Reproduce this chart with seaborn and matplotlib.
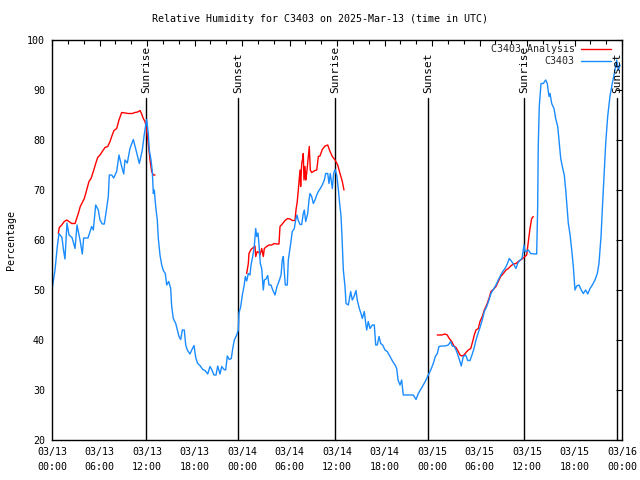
import numpy as np
import pandas as pd
import matplotlib
matplotlib.use("Agg")
import matplotlib.pyplot as plt
import matplotlib.dates as mdates
import seaborn as sns

# ---------------- data ----------------
title = "Relative Humidity for C3403 on 2025-Mar-13 (time in UTC)"
start_time = "2025-03-13 00:00"

# observed station series (hours since start, % RH)
obs_hours = [0.0, 0.38, 0.67, 0.88, 1.26, 1.45, 1.64, 1.89, 2.15, 2.53, 2.91, 3.16, 3.54, 3.83, 4.0, 4.55,
             5.01, 5.22, 5.52, 5.85, 6.06, 6.35, 6.61, 6.91, 7.11, 7.24, 7.54, 7.79, 8.17, 8.46, 8.8, 9.06,
             9.22, 9.51, 9.85, 10.27, 10.61, 11.03, 11.41, 11.62, 11.84, 11.96, 12.16, 12.29, 12.51, 12.67,
             12.8, 12.92, 13.1, 13.3, 13.43, 13.64, 13.86, 14.06, 14.31, 14.49, 14.74, 14.99, 15.12, 15.32,
             15.63, 15.83, 16.04, 16.26, 16.46, 16.71, 16.89, 17.09, 17.43, 17.65, 17.94, 18.15, 18.4, 18.69,
             19.04, 19.33, 19.67, 19.96, 20.17, 20.46, 20.72, 20.93, 21.22, 21.44, 21.73, 21.94, 22.14, 22.4,
             22.65, 22.83, 23.03, 23.33, 23.53, 23.62, 23.84, 24.04, 24.25, 24.42, 24.59, 24.8, 25.01, 25.14,
             25.35, 25.55, 25.73, 25.86, 26.02, 26.15, 26.31, 26.49, 26.69, 26.82, 27.03, 27.25, 27.41, 27.66,
             27.88, 28.17, 28.42, 28.67, 28.93, 29.09, 29.22, 29.34, 29.47, 29.72, 29.85, 29.97, 30.15, 30.35,
             30.61, 30.78, 30.95, 31.11, 31.33, 31.54, 31.74, 31.87, 32.05, 32.3, 32.46, 32.59, 32.8, 33.01,
             33.22, 33.44, 33.64, 33.89, 34.14, 34.4, 34.57, 34.83, 34.99, 35.15, 35.41, 35.58, 35.75, 35.96,
             36.16, 36.29, 36.51, 36.63, 36.8, 37.01, 37.14, 37.43, 37.73, 37.93, 38.15, 38.4, 38.56, 38.82,
             39.03, 39.2, 39.45, 39.63, 39.75, 39.95, 40.17, 40.46, 40.71, 40.89, 41.09, 41.31, 41.52, 41.77,
             42.06, 42.35, 42.69, 43.04, 43.33, 43.54, 43.71, 43.96, 44.17, 44.37, 44.8, 45.22, 45.64, 45.98,
             46.27, 46.57, 46.9, 47.24, 47.53, 47.84, 48.16, 48.42, 48.67, 48.88, 49.23, 49.64, 50.06, 50.36,
             50.56, 50.82, 51.12, 51.41, 51.7, 51.95, 52.26, 52.51, 52.8, 53.05, 53.3, 53.56, 53.85, 54.06,
             54.35, 54.61, 54.91, 55.2, 55.45, 55.74, 56.08, 56.37, 56.68, 56.93, 57.22, 57.51, 57.76, 58.07,
             58.36, 58.61, 58.82, 59.12, 59.37, 59.62, 59.75, 59.87, 60.16, 60.47, 61.01, 61.22, 61.35, 61.42,
             61.55, 61.77, 62.06, 62.36, 62.56, 62.78, 62.91, 63.12, 63.41, 63.62, 63.88, 64.04, 64.26, 64.46,
             64.71, 64.89, 65.05, 65.22, 65.43, 65.65, 65.85, 66.06, 66.28, 66.57, 66.82, 67.11, 67.41, 67.67,
             67.96, 68.25, 68.59, 68.88, 69.09, 69.35, 69.51, 69.73, 69.94, 70.19, 70.48, 70.77, 71.03, 71.33,
             71.54, 71.75]
obs_rh = [50.0, 54.0, 58.7, 61.3, 60.5, 58.0, 56.2, 63.4, 61.0, 60.5, 58.3, 63.0, 60.0, 57.2, 60.4, 60.4,
          62.7, 62.0, 67.0, 66.0, 64.0, 63.2, 63.2, 66.4, 68.7, 73.0, 73.0, 72.4, 73.7, 77.0, 74.7, 73.2,
          76.0, 75.4, 78.3, 80.1, 78.0, 75.3, 78.0, 80.7, 83.0, 84.1, 81.3, 78.0, 76.0, 73.7,
          69.3, 70.0, 66.7, 64.0, 60.3, 57.0, 55.0, 53.9, 53.3, 51.0, 51.7, 50.3, 46.7, 44.3,
          43.3, 42.0, 40.7, 40.1, 42.0, 42.0, 39.0, 38.0, 37.2, 38.0, 38.9, 36.5, 35.3, 34.9,
          34.1, 33.9, 33.2, 34.7, 34.1, 33.0, 33.0, 34.8, 33.2, 34.7, 34.1, 34.0, 36.8, 36.1,
          36.3, 38.3, 40.0, 41.0, 42.0, 45.4, 46.7, 49.0, 50.7, 52.7, 51.8, 53.3, 53.0, 55.0,
          56.7, 58.7, 62.3, 60.7, 61.4, 59.0, 55.3, 54.3, 50.0, 52.0, 52.2, 52.9, 51.0, 51.0,
          50.0, 49.0, 50.7, 51.7, 53.0, 56.0, 56.7, 53.7, 51.0, 51.0, 56.0, 57.3, 59.3, 61.7,
          62.3, 64.0, 65.0, 63.9, 63.1, 63.1, 65.3, 66.0, 63.7, 65.3, 68.0, 69.3, 68.7, 67.3,
          68.0, 69.0, 69.7, 70.3, 71.0, 72.0, 73.3, 73.3, 71.3, 73.3, 70.3, 73.3, 74.1, 73.0,
          70.3, 68.0, 64.7, 60.7, 54.0, 50.7, 47.3, 47.0, 49.7, 48.0, 48.7, 49.9, 48.0, 46.3,
          45.3, 44.3, 45.7, 43.3, 42.0, 43.7, 42.3, 43.0, 43.0, 39.0, 39.0, 40.7, 39.3, 39.0,
          38.0, 37.7, 36.7, 35.7, 35.0, 34.3, 32.0, 31.0, 32.0, 29.0, 29.0, 29.0, 29.0, 28.1,
          29.3, 30.1, 31.0, 32.0, 33.0, 34.0, 35.3, 36.7, 37.3, 38.7, 38.8, 38.8, 39.0, 39.7,
          38.8, 38.7, 37.7, 36.3, 34.8, 36.7, 37.0, 35.9, 35.9, 37.0, 38.3, 40.0, 41.5, 42.5,
          44.0, 45.7, 46.7, 48.0, 49.3, 50.1, 51.0, 52.0, 53.0, 53.7, 54.3, 55.2, 56.3, 55.7,
          55.0, 54.3, 55.3, 56.0, 56.3, 59.0, 57.7, 57.7, 58.0, 57.3, 57.2, 57.2, 66.7, 78.7,
          86.7, 91.3, 91.3, 92.0, 91.3, 88.7, 89.3, 87.3, 86.3, 84.3, 82.7, 80.0, 76.3, 74.7,
          73.0, 70.0, 66.7, 63.3, 61.2, 58.0, 54.7, 50.0, 50.8, 51.0, 50.1, 49.3, 50.0, 49.2,
          50.3, 51.0, 52.0, 53.3, 55.3, 60.7, 66.0, 72.7, 79.3, 84.7, 88.7, 91.3, 93.3, 96.0,
          94.0, 95.0]

# analysis series, three separate runs (hours since start, % RH)
ana_hours_1 = [0.8, 0.92, 1.23, 1.55, 1.86, 2.15, 2.49, 2.91, 3.12, 3.32, 3.57, 3.83, 4.08, 4.38, 4.67,
               4.93, 5.22, 5.52, 5.77, 6.06, 6.35, 6.69, 7.04, 7.33, 7.54, 7.83, 8.17, 8.46, 8.8, 9.22,
               9.64, 10.14, 10.48, 10.83, 11.12, 11.33, 11.53, 11.75, 11.96, 12.16, 12.38, 12.59, 12.8, 13.01]
ana_rh_1 = [61.3, 62.5, 63.0, 63.7, 64.0, 63.7, 63.3, 63.3, 64.3, 65.3, 66.7, 67.5, 68.3, 70.0, 71.7,
            72.3, 73.7, 75.3, 76.5, 77.0, 77.7, 78.5, 78.7, 79.7, 80.7, 81.9, 82.3, 84.0, 85.5, 85.4,
            85.3, 85.3, 85.5, 85.6, 85.9, 85.2, 84.3, 83.7, 82.0, 79.3, 76.0, 73.7, 73.0, 73.0]
ana_hours_2 = [24.59, 24.8, 24.88, 25.14, 25.43, 25.64, 25.73, 25.93, 26.15, 26.27, 26.49, 26.69, 26.82,
               27.12, 27.41, 27.75, 28.08, 28.38, 28.67, 28.8, 29.09, 29.43, 29.77, 30.06, 30.35, 30.69,
               30.82, 30.98, 31.11, 31.33, 31.41, 31.54, 31.67, 31.74, 31.83, 31.96, 32.05, 32.17, 32.38,
               32.5, 32.63, 32.8, 33.01, 33.22, 33.44, 33.64, 33.85, 34.14, 34.48, 34.83, 35.12, 35.41,
               35.75, 36.09, 36.38, 36.67, 36.88]
ana_rh_2 = [53.3, 55.3, 57.3, 58.1, 58.5, 58.8, 56.7, 57.7, 57.5, 57.0, 58.3, 56.7, 58.3,
            58.7, 59.0, 59.0, 59.3, 59.2, 59.2, 62.7, 63.2, 63.9, 64.3, 64.2, 63.9, 63.9,
            66.0, 67.7, 70.0, 74.0, 70.7, 75.3, 76.3, 77.3, 72.0, 74.7, 72.0, 73.3, 76.7,
            78.7, 74.0, 73.5, 73.7, 73.9, 74.0, 76.7, 76.8, 78.1, 78.8, 79.0, 77.7, 76.7,
            76.0, 75.0, 73.3, 71.7, 70.0]
ana_hours_3 = [48.67, 49.23, 49.64, 49.93, 50.18, 50.49, 50.78, 51.03, 51.32, 51.54, 51.75, 52.04, 52.29,
               52.59, 52.89, 53.14, 53.34, 53.56, 53.85, 54.06, 54.35, 54.61, 54.91, 55.2, 55.45, 55.74,
               56.08, 56.37, 56.68, 57.01, 57.35, 57.64, 57.94, 58.28, 58.61, 58.9, 59.2, 59.45, 59.75,
               59.96, 60.09, 60.25, 60.38, 60.59, 60.8]
ana_rh_3 = [41.0, 41.0, 41.2, 41.0, 40.3, 39.7, 38.8, 38.5, 37.7, 37.0, 36.8, 37.0, 37.5,
            38.0, 38.3, 39.7, 41.0, 42.0, 42.3, 43.7, 44.7, 46.0, 47.0, 48.3, 49.7, 50.1,
            50.7, 51.7, 52.7, 53.3, 54.0, 54.3, 54.8, 55.2, 55.3, 55.7, 56.0, 56.3, 56.7,
            57.0, 58.7, 60.7, 62.3, 64.3, 64.7]

# sun events (hours since start)
sun_hours = [11.87, 23.53, 35.8, 47.55, 59.65, 71.42]
sun_labels = ["Sunrise", "Sunset", "Sunrise", "Sunset", "Sunrise", "Sunset"]
sun_line_top = 88.4   # % level where the marker lines stop
sun_text_base = 89.4  # % level where the labels start

obs_label = "C3403"
ana_label = "C3403 Analysis"
y_label = "Percentage"
y_ticks = [20, 30, 40, 50, 60, 70, 80, 90, 100]

# ---------------- build frames ----------------
t0 = pd.Timestamp(start_time)
obs = pd.DataFrame({"time": t0 + pd.to_timedelta(obs_hours, unit="h"), "rh": obs_rh})
ana = pd.concat([
    pd.DataFrame({"time": t0 + pd.to_timedelta(h, unit="h"), "rh": v, "run": i})
    for i, (h, v) in enumerate([(ana_hours_1, ana_rh_1), (ana_hours_2, ana_rh_2), (ana_hours_3, ana_rh_3)])
], ignore_index=True)

# ---------------- style ----------------
sns.set_theme(style="white")
mono = ["DejaVu Sans Mono"]
plt.rcParams["font.family"] = mono
plt.rcParams["font.size"] = 7.2

fig = plt.figure(figsize=(6.4, 4.8), dpi=100)
ax = fig.add_axes([52 / 640, 40 / 480, 570 / 640, 400 / 480])

red = "#ff0000"
blue = "#1a8cff"

sns.lineplot(data=ana, x="time", y="rh", units="run", estimator=None, color=red,
             linewidth=1.0, ax=ax, legend=False)
sns.lineplot(data=obs, x="time", y="rh", color=blue, linewidth=1.0, ax=ax, legend=False)

# sunrise / sunset markers
for h, lab in zip(sun_hours, sun_labels):
    tx = t0 + pd.Timedelta(hours=h)
    ax.plot([tx, tx], [20, sun_line_top], color="black", linewidth=1.0, zorder=1)
    ax.text(tx, sun_text_base, lab, rotation=90, ha="center", va="bottom",
            fontsize=8, color="black", family=mono)

ax.set_xlim(t0, t0 + pd.Timedelta(hours=72))
ax.set_ylim(20, 100)
ax.set_yticks(y_ticks)
ax.xaxis.set_major_locator(mdates.HourLocator(byhour=[0, 6, 12, 18]))
ax.xaxis.set_major_formatter(mdates.DateFormatter("%m/%d\n%H:%M"))
ax.xaxis.set_minor_locator(mdates.HourLocator(byhour=range(0, 24, 2)))
ax.tick_params(axis="both", which="both", direction="in", top=True, right=True,
               color="black", width=0.8, labelsize=7.2, labelcolor="black")
ax.tick_params(axis="both", which="major", length=4, pad=5)
ax.tick_params(axis="x", which="minor", length=3)
for lbl in ax.get_xticklabels():
    lbl.set_linespacing(1.6)

for s in ax.spines.values():
    s.set_visible(True)
    s.set_color("black")
    s.set_linewidth(1.0)

ax.set_xlabel("")
ax.set_ylabel(y_label, fontsize=7.2, color="black", labelpad=8)
fig.text(0.5, 1 - 19 / 480, title, ha="center", va="center", fontsize=7.2, color="black", family=mono)

from matplotlib.lines import Line2D
handles = [Line2D([], [], color=red, linewidth=1.0), Line2D([], [], color=blue, linewidth=1.0)]
ax.legend(handles, [ana_label, obs_label], loc="upper right", bbox_to_anchor=(0.991, 1.005),
          frameon=False, markerfirst=False, handlelength=3.0,
          handletextpad=0.6, borderaxespad=0.2, labelspacing=0.25, fontsize=7.2)

fig.savefig("out.png", dpi=100)
